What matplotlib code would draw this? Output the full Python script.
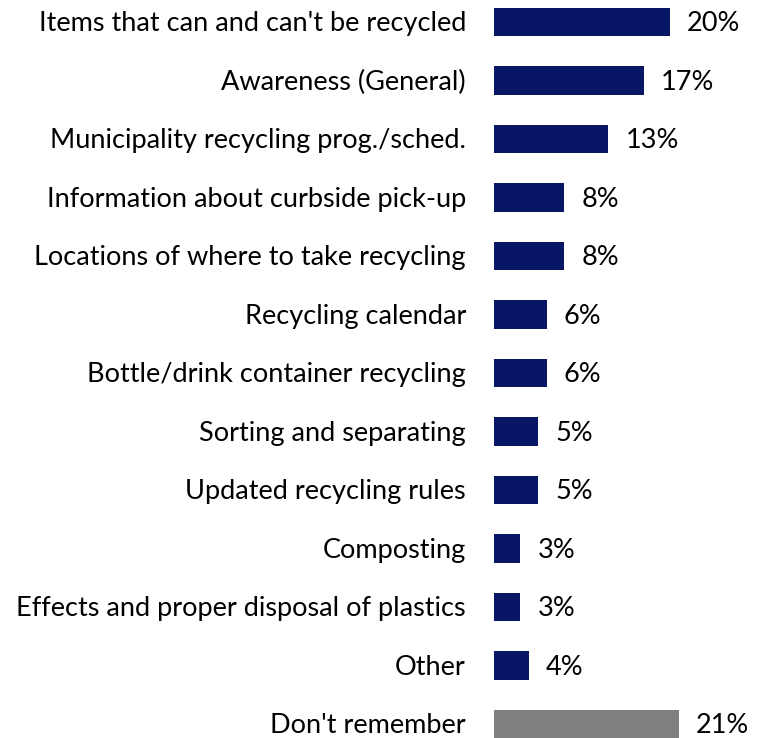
import matplotlib
matplotlib.use("Agg")
import matplotlib.pyplot as plt

plt.rcParams['font.family'] = ['Lato', 'DejaVu Sans']

topics = [
    "Items that can and can't be recycled",
    "Awareness (General)",
    "Municipality recycling prog./sched.",
    "Information about curbside pick-up",
    "Locations of where to take recycling",
    "Recycling calendar",
    "Bottle/drink container recycling",
    "Sorting and separating",
    "Updated recycling rules",
    "Composting",
    "Effects and proper disposal of plastics",
    "Other",
    "Don't remember",
]
shares = [20, 17, 13, 8, 8, 6, 6, 5, 5, 3, 3, 4, 21]

navy = "#071766"
grey = "#808080"
colors = [navy] * (len(shares) - 1) + [grey]

fig = plt.figure(figsize=(7.69, 7.38), dpi=100)
ax = fig.add_axes([494 / 769, 0, 275 / 769, 1])

ypos = list(range(len(shares)))
ax.barh(ypos, shares, height=0.48, color=colors)
ax.set_xlim(0, 275 / 8.8)
ax.set_ylim(12 + 14 / 58.5, -22 / 58.5)

# value labels to the right of each bar, topic names to the left
for y, v, t in zip(ypos, shares, topics):
    ax.text(v + 17 / 8.8, y + 0.03, f"{v}%", va="center", ha="left", fontsize=19.5, color="black")
    ax.text(-28 / 8.8, y + 0.03, t, va="center", ha="right", fontsize=19.5, color="black", clip_on=False)

ax.axis("off")
fig.savefig("out.png", dpi=100)
